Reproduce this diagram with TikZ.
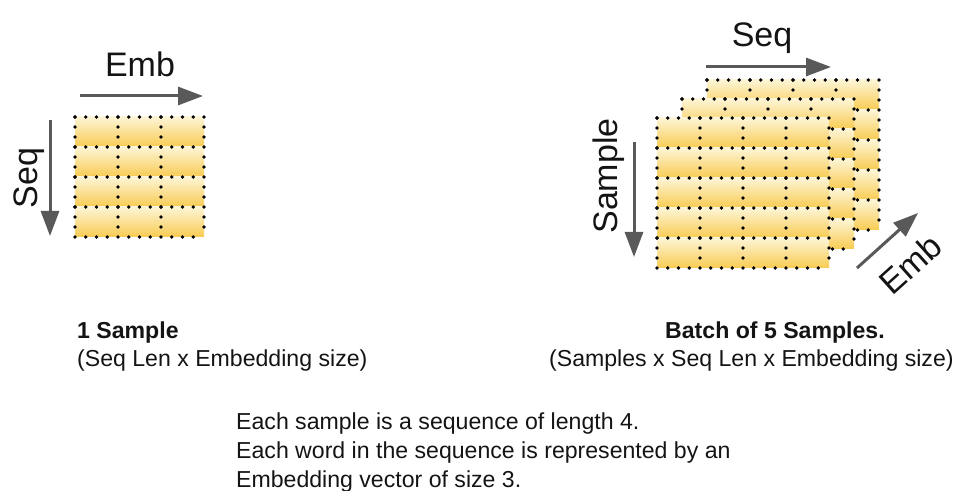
\documentclass[tikz,border=0pt]{standalone}
\usepackage{fontspec}
\setmainfont{Liberation Sans}
\usetikzlibrary{arrows.meta}
\definecolor{celltop}{RGB}{254,245,214}
\definecolor{cellbot}{RGB}{248,203,82}
\definecolor{arrowgray}{RGB}{89,89,89}
\definecolor{textcol}{RGB}{20,20,20}
\tikzset{
  doth/.style={line width=3.6pt, line cap=round, dash pattern=on 0pt off 10.75pt, black},
  dotv/.style={line width=3.6pt, line cap=round, dash pattern=on 0pt off 10pt, black},
  arr/.style={draw=arrowgray, line width=3pt, -{Triangle[length=25pt,width=18pt]}},
  bigtxt/.style={font=\fontsize{34}{40}\selectfont, text=textcol, inner sep=0pt},
  smalltxt/.style={font=\fontsize{23.1}{28}\selectfont, text=textcol, inner sep=0pt, anchor=base west},
  boldtxt/.style={font=\fontsize{23.1}{28}\selectfont\bfseries, text=textcol, inner sep=0pt, anchor=base west},
}
\newcommand\tensorgrid[4]{%
  \foreach \r in {1,...,#4}{\shade[top color=celltop,bottom color=cellbot] ({#1},{#2+(\r-1)*30}) rectangle ({#1+#3*43},{#2+\r*30});}
  \foreach \c in {0,...,#3}{\draw[dotv] ({#1+\c*43},{#2}) -- ({#1+\c*43},{#2+#4*30});}
  \foreach \r in {0,...,#4}{\draw[doth] ({#1},{#2+\r*30}) -- ({#1+#3*43},{#2+\r*30});}
}
\begin{document}
\begin{tikzpicture}[x=1pt,y=-1pt]
\useasboundingbox (0,0) rectangle (972,502);
% left single sample
\tensorgrid{75}{117}{3}{4}
% right batch: back, middle, front
\tensorgrid{707}{80}{4}{5}
\tensorgrid{682}{99}{4}{5}
\tensorgrid{657}{118}{4}{5}
% arrows
\coordinate (embLa) at (80,96);
\coordinate (embLb) at (203,96);
\coordinate (seqLa) at (50,120);
\coordinate (seqLb) at (50,236);
\coordinate (seqRa) at (706,67);
\coordinate (seqRb) at (831,67);
\coordinate (smpRa) at (634,142);
\coordinate (smpRb) at (634,257);
\coordinate (embRa) at (857,268);
\coordinate (embRb) at (918,213);
\draw[arr] (embLa) -- (embLb);
\draw[arr] (seqLa) -- (seqLb);
\draw[arr] (seqRa) -- (seqRb);
\draw[arr] (smpRa) -- (smpRb);
\draw[arr] (embRa) -- (embRb);
% arrow labels
\node[bigtxt, anchor=base] (embL) at (140,77) {Emb};
\node[bigtxt, anchor=base, rotate=90] (seqL) at (37,178) {Seq};
\node[bigtxt, anchor=base] (seqR) at (762,47) {Seq};
\node[bigtxt, anchor=base, rotate=90] (smpR) at (617,176) {Sample};
\node[bigtxt, anchor=center, rotate=42] (embR) at (910,264) {Emb};
% captions
\node[boldtxt] (capL1) at (77,339) {1 Sample};
\node[smalltxt] (capL2) at (77,367) {(Seq Len x Embedding size)};
\node[boldtxt] (capR1) at (665,339) {Batch of 5 Samples.};
\node[smalltxt] (capR2) at (549,367) {(Samples x Seq Len x Embedding size)};
\begin{scope}
\clip (0,0) rectangle (972,490);
\node[smalltxt] (note1) at (236,430) {Each sample is a sequence of length 4.};
\node[smalltxt] (note2) at (236,458.5) {Each word in the sequence is represented by an};
\node[smalltxt] (note3) at (236,487) {Embedding vector of size 3.};
\end{scope}
\end{tikzpicture}
\end{document}
